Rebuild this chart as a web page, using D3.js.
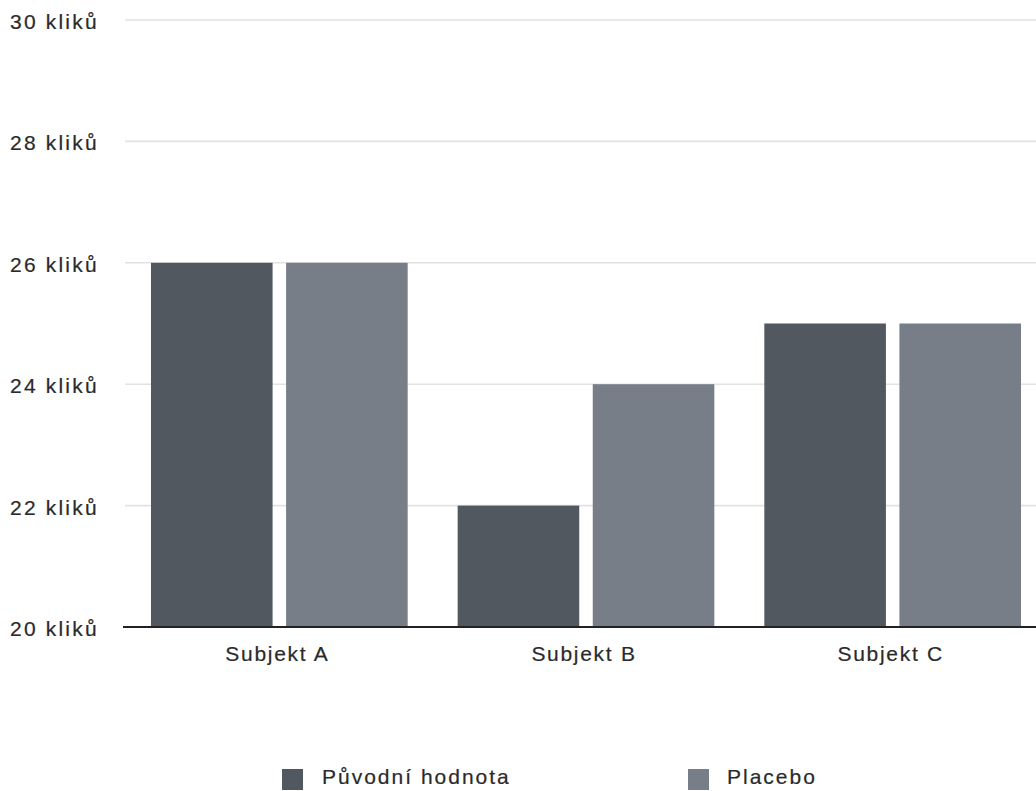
<!DOCTYPE html>
<html>
<head>
<meta charset="utf-8">
<script src="https://cdn.jsdelivr.net/npm/d3@7"></script>
<style>
  html, body { margin: 0; padding: 0; background: #fff; overflow: hidden; }
  text { font-family: "Liberation Sans", Arial, Helvetica, sans-serif; fill: #2a2a2a; stroke: #2a2a2a; stroke-width: 0.2px; }
</style>
</head>
<body>
<svg id="chart" width="1036" height="791"></svg>
<script>
const categories = ["Subjekt A", "Subjekt B", "Subjekt C"];
const seriesNames = ["Původní hodnota", "Placebo"];
const originalValues = [26, 22, 25];
const placeboValues = [26, 24, 25];
const yTicks = [20, 22, 24, 26, 28, 30];
const tickSuffix = " kliků";
const colors = ["#52585f", "#787e88"];

const svg = d3.select("#chart");
const W = 1036;

const y = d3.scaleLinear().domain([20, 30]).range([627, 20]);
const x0 = d3.scaleBand().domain(categories).range([126, 1046])
  .paddingInner(0.163).paddingOuter(0.0815);
const x1 = d3.scaleBand().domain(seriesNames).range([0, x0.bandwidth()])
  .paddingInner(0.1).paddingOuter(0);

// gridlines
svg.append("g").selectAll("line")
  .data(yTicks.filter(t => t !== 20))
  .join("line")
  .attr("x1", 125).attr("x2", W)
  .attr("y1", d => y(d)).attr("y2", d => y(d))
  .attr("stroke", "#e2e2e2").attr("stroke-width", 1.6);

// y tick labels
svg.append("g").selectAll("text")
  .data(yTicks)
  .join("text")
  .attr("x", 10)
  .attr("y", d => y(d) + 1.5)
  .attr("dominant-baseline", "central")
  .attr("font-size", 21)
  .attr("letter-spacing", 2.2)
  .text(d => d + tickSuffix);

// bars
const data = categories.map((c, i) => ({ cat: c, vals: [originalValues[i], placeboValues[i]] }));
const groups = svg.append("g").selectAll("g")
  .data(data).join("g")
  .attr("transform", d => `translate(${x0(d.cat)},0)`);
groups.selectAll("rect")
  .data(d => d.vals.map((v, j) => ({ s: seriesNames[j], v, j })))
  .join("rect")
  .attr("x", d => x1(d.s))
  .attr("width", x1.bandwidth())
  .attr("y", d => y(d.v))
  .attr("height", d => y(20) - y(d.v))
  .attr("fill", d => colors[d.j]);

// baseline axis
svg.append("line")
  .attr("x1", 123).attr("x2", W)
  .attr("y1", y(20)).attr("y2", y(20))
  .attr("stroke", "#222").attr("stroke-width", 2);

// category labels
svg.append("g").selectAll("text")
  .data(categories).join("text")
  .attr("x", d => x0(d) + x0.bandwidth() / 2 - 2)
  .attr("y", 661)
  .attr("text-anchor", "middle")
  .attr("font-size", 21)
  .attr("letter-spacing", 1.7)
  .text(d => d);

// legend
const legendX = [282, 688];
const legend = svg.append("g").selectAll("g")
  .data(seriesNames).join("g")
  .attr("transform", (d, i) => `translate(${legendX[i]},769)`);
legend.append("rect")
  .attr("width", 21).attr("height", 21)
  .attr("fill", (d, i) => colors[i]);
legend.append("text")
  .attr("x", (d, i) => i === 0 ? 40 : 39)
  .attr("y", 15)
  .attr("font-size", 21)
  .attr("letter-spacing", 2)
  .text(d => d);
</script>
</body>
</html>
